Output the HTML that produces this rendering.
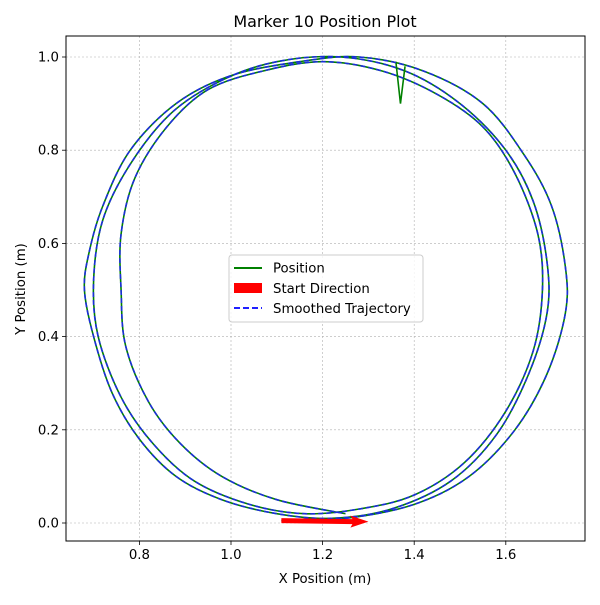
<!DOCTYPE html>
<html><head><meta charset="utf-8"><style>
body{margin:0;background:#fff;font-family:"Liberation Sans","DejaVu Sans",sans-serif}
</style></head><body>
<svg id="c" width="600" height="600" xmlns="http://www.w3.org/2000/svg" font-family="'DejaVu Sans','Liberation Sans',sans-serif">
<rect width="600" height="600" fill="#fff"/>
<g id="grid"></g><g id="series"></g><g id="axes"></g>
</svg>
<script>
const xTicks=[0.8,1.0,1.2,1.4,1.6];
const yTicks=[0.0,0.2,0.4,0.6,0.8,1.0];
const pathX=[1.11,1.25,1.40,1.52,1.62,1.69,1.73,1.73,1.70,1.64,1.55,1.42,1.28,1.15,1.00,0.88,0.78,0.72,0.69,0.68,0.70,0.74,0.80,0.88,0.98,1.10,1.22,
1.35,1.48,1.58,1.65,1.69,1.69,1.66,1.60,1.50,1.38,1.24,1.10,0.98,0.87,0.78,0.72,0.70,0.71,0.76,0.83,0.92,1.04,1.16,1.28,
1.40,1.51,1.60,1.66,1.68,1.67,1.62,1.55,1.45,1.33,1.20,1.07,0.95,0.86,0.79,0.76,0.76,0.77,0.82,0.89,0.98,1.10,1.25];
const pathY=[0.005,0.01,0.04,0.10,0.20,0.32,0.45,0.55,0.68,0.79,0.90,0.97,1.00,0.99,0.96,0.90,0.80,0.68,0.58,0.50,0.40,0.28,0.18,0.10,0.05,0.02,0.01,
0.03,0.09,0.19,0.32,0.45,0.56,0.69,0.80,0.90,0.97,1.00,0.99,0.95,0.88,0.77,0.65,0.52,0.40,0.27,0.17,0.09,0.04,0.02,0.03,
0.06,0.13,0.24,0.37,0.50,0.62,0.75,0.85,0.92,0.97,0.99,0.97,0.93,0.85,0.74,0.62,0.50,0.38,0.26,0.17,0.10,0.05,0.02];
const spikeX=[1.36,1.37,1.38];
const spikeY=[0.99,0.90,0.98];
const arrowStart=[1.11,0.005];
const arrowEnd=[1.30,0.003];
const X0=66,X1=585,Y0=36,Y1=541;
const sx=v=>231+(v-1)*458;
const sy=v=>523-v*466;
const NS="http://www.w3.org/2000/svg";
function mk(tag,attrs,parent,text){const e=document.createElementNS(NS,tag);for(const k in attrs)e.setAttribute(k,attrs[k]);if(text!==undefined)e.textContent=text;parent.appendChild(e);return e;}
function smooth(pts){let d='M'+pts[0][0]+','+pts[0][1];for(let i=0;i<pts.length-1;i++){const p0=pts[Math.max(0,i-1)],p1=pts[i],p2=pts[i+1],p3=pts[Math.min(pts.length-1,i+2)];
const c1=[p1[0]+(p2[0]-p0[0])/6,p1[1]+(p2[1]-p0[1])/6],c2=[p2[0]-(p3[0]-p1[0])/6,p2[1]-(p3[1]-p1[1])/6];
d+=' C'+c1[0]+','+c1[1]+' '+c2[0]+','+c2[1]+' '+p2[0]+','+p2[1];}return d;}
const grid=document.getElementById('grid'),ser=document.getElementById('series'),ax=document.getElementById('axes');
xTicks.forEach(t=>{const l=mk('line',{x1:sx(t),x2:sx(t),y1:Y0,y2:Y1,stroke:'#b0b0b0','stroke-width':0.6,'stroke-dasharray':'2,2'},grid);


mk('line',{x1:sx(t),x2:sx(t),y1:Y1,y2:Y1+4,stroke:'#000','stroke-width':0.8},ax);
const tx=mk('text',{x:sx(t),y:Y1+18,'text-anchor':'middle','font-size':13.3},ax,t.toFixed(1));

});
yTicks.forEach(t=>{const l=mk('line',{x1:X0,x2:X1,y1:sy(t),y2:sy(t),stroke:'#b0b0b0','stroke-width':0.6,'stroke-dasharray':'2,2'},grid);


mk('line',{x1:X0-4,x2:X0,y1:sy(t),y2:sy(t),stroke:'#000','stroke-width':0.8},ax);
const tx=mk('text',{x:X0-7,y:sy(t)+4.5,'text-anchor':'end','font-size':13.3},ax,t.toFixed(1));

});
const base=pathX.map((v,i)=>[sx(v),sy(pathY[i])]);
const pos=mk('path',{d:smooth(base),fill:'none',stroke:'green','stroke-width':1.6},ser);


const sp=mk('polyline',{points:spikeX.map((v,i)=>sx(v)+','+sy(spikeY[i])).join(' '),fill:'none',stroke:'green','stroke-width':1.6},ser);


const sm=mk('path',{d:smooth(base),fill:'none',stroke:'#2020ff','stroke-width':1.6,'stroke-dasharray':'5,3','stroke-opacity':0.85},ser);


const ax0=sx(arrowStart[0]),ay0=sy(arrowStart[1]),ax1=sx(arrowEnd[0]),ay1=sy(arrowEnd[1]);
const arr=mk('polygon',{points:`${ax0},${ay0-2.5} ${ax1-16},${ay1-2.5} ${ax1-18},${ay1-6} ${ax1},${ay1} ${ax1-18},${ay1+6} ${ax1-16},${ay1+2.5} ${ax0},${ay0+2.5}`,fill:'red'},ser);


const fr=mk('rect',{x:X0,y:Y0,width:X1-X0,height:Y1-Y0,fill:'none',stroke:'#000','stroke-width':1},ax);


</script>
<svg width="600" height="600" style="position:absolute;left:0;top:0" font-family="'DejaVu Sans','Liberation Sans',sans-serif">
<text x="325" y="27" text-anchor="middle" font-size="16">Marker 10 Position Plot</text>
<text x="325" y="583" text-anchor="middle" font-size="13.3">X Position (m)</text>
<text x="25" y="289" text-anchor="middle" font-size="13.3" transform="rotate(-90 25 289)">Y Position (m)</text>
<g>
<rect x="229" y="255" width="194" height="67" rx="3" fill="#fff" fill-opacity="0.8" stroke="#ccc"/>
<line x1="234" y1="268" x2="262" y2="268" stroke="green" stroke-width="2"/>
<text x="273" y="272.5" font-size="13.3">Position</text>
<rect x="234" y="283" width="28" height="10" fill="red"/>
<text x="273" y="293" font-size="13.3">Start Direction</text>
<line x1="234" y1="308" x2="262" y2="308" stroke="#2020ff" stroke-width="2" stroke-dasharray="6,3"/>
<text x="273" y="313" font-size="13.3">Smoothed Trajectory</text>
</g>
</svg>
</body></html>
